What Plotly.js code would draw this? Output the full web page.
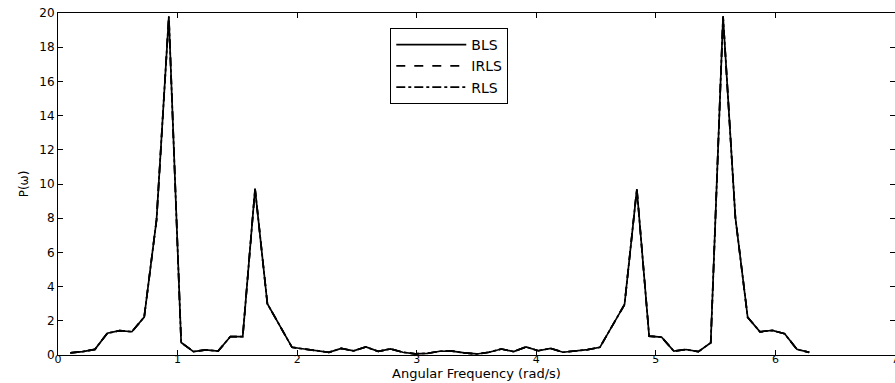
<!DOCTYPE html>
<html>
<head>
<meta charset="utf-8">
<script src="https://cdn.plot.ly/plotly-3.0.1.min.js"></script>
<style>html,body{margin:0;padding:0;background:#fff;}#chart{width:895px;height:383px;}</style>
</head>
<body>
<div id="chart"></div>
<script>
// Angular frequency grid (rad/s)
const omega = [0.103,0.206,0.309,0.412,0.515,0.618,0.721,0.824,0.927,1.030,
  1.133,1.236,1.339,1.442,1.545,1.648,1.751,1.854,1.957,2.060,
  2.163,2.266,2.369,2.472,2.575,2.678,2.781,2.884,2.987,3.090,
  3.193,3.296,3.399,3.502,3.605,3.708,3.811,3.914,4.017,4.120,
  4.223,4.326,4.429,4.532,4.635,4.738,4.841,4.944,5.047,5.150,
  5.253,5.356,5.459,5.562,5.665,5.768,5.871,5.974,6.077,6.180,6.283];

// Power spectrum estimates (the three curves coincide in the figure)
const bls = [0.12,0.20,0.33,1.27,1.42,1.36,2.22,7.90,19.80,0.73,
  0.20,0.30,0.23,1.08,1.08,9.72,3.00,1.70,0.45,0.35,
  0.25,0.16,0.39,0.24,0.47,0.21,0.36,0.16,0.07,0.10,
  0.22,0.23,0.12,0.06,0.16,0.35,0.20,0.47,0.25,0.39,
  0.16,0.25,0.31,0.45,1.70,2.95,9.70,1.10,1.05,0.23,
  0.32,0.20,0.72,19.80,8.05,2.20,1.36,1.44,1.24,0.33,0.15];
const irls = [0.12,0.20,0.33,1.27,1.42,1.36,2.22,7.90,19.80,0.73,
  0.20,0.30,0.23,1.08,1.08,9.72,3.00,1.70,0.45,0.35,
  0.25,0.16,0.39,0.24,0.47,0.21,0.36,0.16,0.07,0.10,
  0.22,0.23,0.12,0.06,0.16,0.35,0.20,0.47,0.25,0.39,
  0.16,0.25,0.31,0.45,1.70,2.95,9.70,1.10,1.05,0.23,
  0.32,0.20,0.72,19.80,8.05,2.20,1.36,1.44,1.24,0.33,0.15];
const rls = [0.12,0.20,0.33,1.27,1.42,1.36,2.22,7.90,19.80,0.73,
  0.20,0.30,0.23,1.08,1.08,9.72,3.00,1.70,0.45,0.35,
  0.25,0.16,0.39,0.24,0.47,0.21,0.36,0.16,0.07,0.10,
  0.22,0.23,0.12,0.06,0.16,0.35,0.20,0.47,0.25,0.39,
  0.16,0.25,0.31,0.45,1.70,2.95,9.70,1.10,1.05,0.23,
  0.32,0.20,0.72,19.80,8.05,2.20,1.36,1.44,1.24,0.33,0.15];

const seriesNames = ['BLS','IRLS','RLS'];
const xTicks = [0,1,2,3,4,5,6,7];
const yTicks = [0,2,4,6,8,10,12,14,16,18,20];

const FONT = 'DejaVu Sans, Liberation Sans, Arial, sans-serif';

const traces = [
  {x: omega, y: bls, name: seriesNames[0], type: 'scatter', mode: 'lines',
   line: {color: '#000', width: 1.7, dash: 'solid'}},
  {x: omega, y: irls, name: seriesNames[1], type: 'scatter', mode: 'lines',
   line: {color: '#000', width: 1.7, dash: 'dash'}},
  {x: omega, y: rls, name: seriesNames[2], type: 'scatter', mode: 'lines',
   line: {color: '#000', width: 1.7, dash: 'dashdot'}}
];

const axisCommon = {
  showgrid: false, zeroline: false, showline: true, linecolor: '#000', linewidth: 1,
  mirror: 'ticks', ticks: 'inside', ticklen: 5, tickcolor: '#000', tickwidth: 1,
  tickfont: {family: FONT, size: 12, color: '#000'}
};

const layout = {
  width: 895, height: 383,
  margin: {l: 58, r: 0, t: 13, b: 28, pad: 0},
  paper_bgcolor: '#fff', plot_bgcolor: '#fff',
  font: {family: FONT, color: '#000'},
  xaxis: Object.assign({}, axisCommon, {
    range: [0, 7], tickmode: 'array', tickvals: xTicks, ticktext: xTicks.map(String),
    automargin: false, ticklabelstandoff: -6, ticklabeloverflow: 'allow',
    tickfont: {family: FONT, size: 11, color: '#000'},
    title: {text: 'Angular Frequency (rad/s)', font: {family: FONT, size: 13, color: '#000'}, standoff: 0}
  }),
  yaxis: Object.assign({}, axisCommon, {
    range: [0, 20], tickmode: 'array', tickvals: yTicks, ticktext: yTicks.map(String),
    automargin: false,
    title: {text: 'P(ω)', font: {family: FONT, size: 12, color: '#000'}, standoff: 8}
  }),
  showlegend: true,
  legend: {
    x: 0.397, y: 0.956, xanchor: 'left', yanchor: 'top',
    bgcolor: '#fff', bordercolor: '#000', borderwidth: 1,
    font: {family: FONT, size: 14, color: '#000'},
    itemwidth: 70, traceorder: 'normal', tracegroupgap: 0,
    entrywidthmode: 'pixels', entrywidth: 190
  }
};

Plotly.newPlot('chart', traces, layout, {staticPlot: true, displayModeBar: false});
</script>
</body>
</html>
